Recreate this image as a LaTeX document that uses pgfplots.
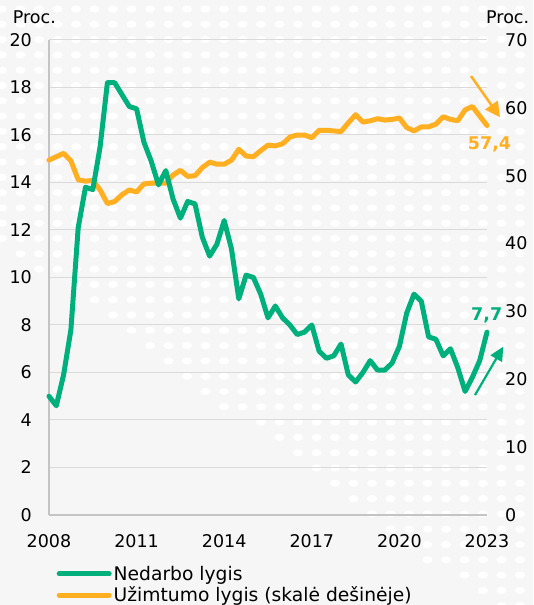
\documentclass[border=0pt]{standalone}
\usepackage{fontspec}
\setmainfont{DejaVu Sans}
\usepackage{pgfplots}
\pgfplotsset{compat=1.18}
\usepackage{pgfplotstable}
\usetikzlibrary{arrows.meta}
\definecolor{ugreen}{HTML}{00B07C}
\definecolor{eorange}{HTML}{FFAF1F}
\definecolor{bgc}{HTML}{F6F6F6}
\definecolor{gridc}{HTML}{DADADA}
\definecolor{axc}{HTML}{C4C4C4}
\newcommand\fs{\fontsize{17.5}{21}\selectfont}
\newcommand\lfs{\fontsize{18.7}{22}\selectfont}

\pgfplotstableread{
x u e
2008.00 5.0 52.3
2008.25 4.6 52.8
2008.50 5.9 53.3
2008.75 7.8 52.2
2009.00 12.1 49.4
2009.25 13.8 49.2
2009.50 13.7 49.3
2009.75 15.5 47.9
2010.00 18.2 45.9
2010.25 18.2 46.2
2010.50 17.7 47.2
2010.75 17.2 47.9
2011.00 17.1 47.6
2011.25 15.7 48.8
2011.50 14.9 48.9
2011.75 13.9 48.9
2012.00 14.5 48.9
2012.25 13.3 50.1
2012.50 12.5 50.8
2012.75 13.2 49.9
2013.00 13.1 50.0
2013.25 11.7 51.2
2013.50 10.9 52.0
2013.75 11.4 51.7
2014.00 12.4 51.7
2014.25 11.2 52.3
2014.50 9.1 53.9
2014.75 10.1 52.9
2015.00 10.0 52.8
2015.25 9.3 53.7
2015.50 8.3 54.5
2015.75 8.8 54.4
2016.00 8.3 54.7
2016.25 8.0 55.7
2016.50 7.6 56.0
2016.75 7.7 56.0
2017.00 8.0 55.6
2017.25 6.9 56.7
2017.50 6.6 56.7
2017.75 6.7 56.6
2018.00 7.2 56.5
2018.25 5.9 57.8
2018.50 5.6 59.0
2018.75 6.0 57.9
2019.00 6.5 58.1
2019.25 6.1 58.4
2019.50 6.1 58.2
2019.75 6.4 58.3
2020.00 7.1 58.5
2020.25 8.5 57.1
2020.50 9.3 56.6
2020.75 9.0 57.2
2021.00 7.5 57.2
2021.25 7.4 57.6
2021.50 6.7 58.7
2021.75 7.0 58.3
2022.00 6.2 58.1
2022.25 5.2 59.7
2022.50 5.8 60.2
2022.75 6.5 58.8
2023.00 7.7 57.4
}\data

\begin{document}
\begin{tikzpicture}[font=\fs]
\fill[bgc] (-49pt,-90pt) rectangle (484pt,515pt);
\path[use as bounding box] (-49pt,-90pt) rectangle (484pt,515pt);
% decorative white dot background
\foreach \i in {0,...,29}{
  \foreach \j in {0,...,40}{
    \pgfmathsetmacro{\px}{2+18.5*\i}
    \pgfmathsetmacro{\py}{9+15.3*\j}
    \pgfmathparse{(\py < 240+0.75*\px) ? 1 : 0}
    \ifnum\pgfmathresult=1
      \fill[white] (\px pt-49pt, 515pt-\py pt) ellipse [x radius=5pt, y radius=3.6pt];
    \fi
  }
}
\node[anchor=base west, inner sep=0pt] at (-36.3pt,491.7pt) {Proc.};
\node[anchor=base west, inner sep=0pt] at (437pt,491.7pt) {Proc.};
% base axis: grid, left ticks, x ticks, legend
\begin{axis}[
  at={(0pt,0pt)}, anchor=south west,
  scale only axis, width=438pt, height=475pt,
  xmin=2008, xmax=2023, ymin=0, ymax=20,
  axis x line=bottom, axis y line=left,
  axis line style={-, draw=axc, line width=1.6pt},
  xtick={2008,2011,2014,2017,2020,2023},
  xticklabels={2008,2011,2014,2017,2020,2023},
  ytick={0,2,...,20},
  major tick length=0pt, tick style={draw=none},
  ymajorgrids, grid style={gridc, line width=1pt},
  /pgf/number format/assume math mode=true,
  tick label style={font=\fs},
  yticklabel style={anchor=east, inner sep=0pt, xshift=-17pt},
  xticklabel style={anchor=north, inner sep=0pt, yshift=-19pt},
  clip=false,
  legend cell align=left,
  legend style={at={(0.0171,-0.1030)}, anchor=north west, draw=none, fill=none,
    font=\lfs, inner sep=0pt, row sep=1pt, nodes={inner sep=2pt}},
  legend image code/.code={\draw[#1, line width=5pt, line cap=round] (0pt,0pt) -- (50pt,0pt);},
]
\addlegendimage{ugreen}
\addlegendentry{Nedarbo lygis}
\addlegendimage{eorange}
\addlegendentry{Užimtumo lygis (skalė dešinėje)}
\end{axis}
% right axis: employment
\begin{axis}[
  at={(0pt,0pt)}, anchor=south west,
  scale only axis, width=438pt, height=475pt,
  xmin=2008, xmax=2023, ymin=0, ymax=70,
  axis x line=none, axis y line=right,
  axis line style={draw=none},
  ytick={0,10,...,70},
  major tick length=0pt, tick style={draw=none},
  /pgf/number format/assume math mode=true,
  tick label style={font=\fs},
  yticklabel style={anchor=west, inner sep=0pt, xshift=18pt},
  clip=false,
]
\addplot[eorange, line width=5pt, line join=round, line cap=round] table[x=x, y=e] {\data};
\node[anchor=base, font=\bfseries\fs, text=eorange] at (axis cs:2023.085,53.93) {57,4};
\draw[eorange, line width=2.5pt, -{Triangle[length=15pt,width=15pt]}] (axis cs:2022.452,64.69) -- (axis cs:2023.445,58.61);
\end{axis}
% left-scale overlay: unemployment
\begin{axis}[
  at={(0pt,0pt)}, anchor=south west,
  scale only axis, width=438pt, height=475pt,
  xmin=2008, xmax=2023, ymin=0, ymax=20,
  hide axis, clip=false,
]
\addplot[ugreen, line width=5pt, line join=round, line cap=round] table[x=x, y=u] {\data};
\node[anchor=base, font=\bfseries\fs, text=ugreen] at (axis cs:2022.99,8.21) {7,7};
\draw[ugreen, line width=2.2pt, -{Triangle[length=14pt,width=13pt]}] (axis cs:2022.589,5.05) -- (axis cs:2023.558,7.09);
\end{axis}
\end{tikzpicture}
\end{document}
